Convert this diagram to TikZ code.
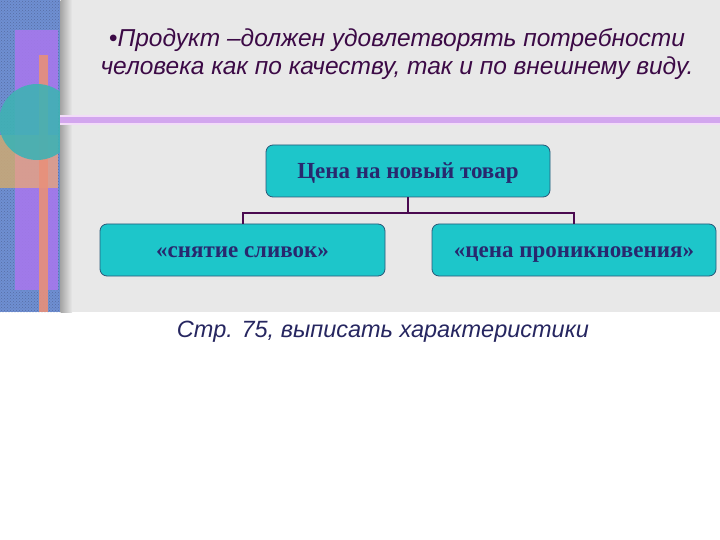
\documentclass[tikz,border=0pt]{standalone}
\usepackage{fontspec}
\setmainfont{Liberation Serif}
\setsansfont{Liberation Sans}
\usetikzlibrary{patterns}
\definecolor{bggrey}{HTML}{E8E8E8}
\definecolor{stripblue}{HTML}{6F8FD2}
\definecolor{stripdark}{HTML}{2C4A8C}
\definecolor{strippurple}{HTML}{A678EC}
\definecolor{striporange}{HTML}{E8907A}
\definecolor{stripsalmon}{HTML}{DDA088}
\definecolor{stripteal}{HTML}{3FB2B4}
\definecolor{striptan}{HTML}{C8A878}
\definecolor{ruleviolet}{HTML}{D2A6EE}
\definecolor{rulelight}{HTML}{F2DCF8}
\definecolor{titlecol}{HTML}{3C0A46}
\definecolor{boxfill}{HTML}{1DC6CA}
\definecolor{boxedge}{HTML}{2A5878}
\definecolor{boxtext}{HTML}{28286E}
\definecolor{linkcol}{HTML}{4A0A50}
\definecolor{notecol}{HTML}{262660}
\tikzset{
  chartbox/.style={draw=boxedge, line width=0.8pt, fill=boxfill, rounded corners=7pt,
    minimum height=52pt, inner sep=0pt, text height=18pt, text depth=2pt,
    font=\fontsize{23}{26}\selectfont\bfseries, text=boxtext},
  link/.style={draw=linkcol, line width=2pt},
  titletext/.style={font=\sffamily\itshape\fontsize{24.5}{28}\selectfont, text=titlecol, align=center},
}
\begin{document}
\begin{tikzpicture}[x=1pt,y=-1pt]
\useasboundingbox (0,0) rectangle (720,540);
\fill[white] (0,0) rectangle (720,540);
% grey slide area
\fill[bggrey] (60,0) rectangle (720,312);
% left decorative strip
\begin{scope}
  \clip (0,0) rectangle (60,312);
  \fill[stripblue] (0,0) rectangle (60,312);
  \fill[pattern=crosshatch dots, pattern color=stripdark!80] (0,0) rectangle (60,312);
  \fill[strippurple, opacity=0.9] (15,30) rectangle (58,290);
  \fill[striptan, opacity=0.9] (0,135) rectangle (15,188);
  \fill[stripsalmon, opacity=0.9] (15,135) rectangle (58,188);
  \fill[striporange, opacity=0.9] (39,55) rectangle (48,312);
  \fill[stripteal, opacity=0.9] (37,122) circle (38);
\end{scope}
\draw[white, line width=0.8pt] (60,0) -- (60,312);
\shade[left color=gray!70, right color=bggrey] (60.5,0) rectangle (72,312);
% violet rule
\fill[rulelight] (60,115) rectangle (720,125);
\fill[ruleviolet] (60,117) rectangle (720,123);
% title
\node[titletext] (title) at (397,54) {•Продукт –должен удовлетворять потребности\\человека как по качеству, так и по внешнему виду.};
% chart
\node[chartbox, minimum width=284pt] (top) at (408,171) {Цена на новый товар};
\node[chartbox, minimum width=285pt] (left) at (242.5,250) {«снятие сливок»};
\node[chartbox, minimum width=284pt] (right) at (574,250) {«цена проникновения»};
\coordinate (fork) at (top.south |- 0,213);
\draw[link] (top.south) -- (fork);
\draw[link] (left.north) -- (left.north |- fork) -- (right.north |- fork) -- (right.north);
% note
\node[font=\sffamily\itshape\fontsize{23.5}{26}\selectfont, text=notecol] (note) at (383,332) {Стр. 75, выписать характеристики};
\end{tikzpicture}
\end{document}
